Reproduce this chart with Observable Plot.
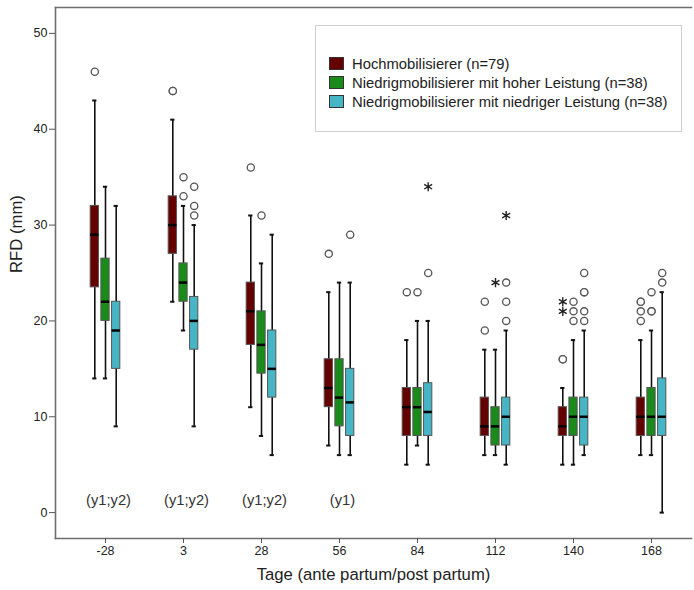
<!DOCTYPE html>
<html>
<head>
<meta charset="utf-8">
<script src="https://cdn.jsdelivr.net/npm/d3@7"></script>
<script src="https://cdn.jsdelivr.net/npm/@observablehq/plot@0.6"></script>
<style>
  html, body { margin: 0; padding: 0; background: #fff; }
  body { font-family: "Liberation Sans", Arial, sans-serif; }
  #wrap { position: relative; width: 694px; height: 590px; overflow: hidden; }
  #legend { position: absolute; left: 315px; top: 25px; width: 367px; height: 107px;
    border: 1px solid #cfcfcf; box-sizing: border-box; background: #fff;
    font-size: 14.8px; color: #222; padding: 28px 0 0 13px; }
  .row { display: flex; align-items: center; height: 19px; white-space: nowrap; }
  .sw { width: 15px; height: 13px; border: 1px solid #333; margin-right: 8px; box-sizing: border-box; flex: none; }
</style>
</head>
<body>
<div id="wrap"><div id="chart"></div><div id="legend"></div></div>
<script>
// Categories
const days = ["-28", "3", "28", "56", "84", "112", "140", "168"];
const groupNames = [
  "Hochmobilisierer (n=79)",
  "Niedrigmobilisierer mit hoher Leistung (n=38)",
  "Niedrigmobilisierer mit niedriger Leistung (n=38)"
];
const groupColors = ["#650000", "#1a8a1a", "#46b6c6"];
const annotations = ["(y1;y2)", "(y1;y2)", "(y1;y2)", "(y1)", "", "", "", ""];
const yTicks = [0, 10, 20, 30, 40, 50];

// Hochmobilisierer
const hochLow  = [14, 22, 11, 7, 5, 6, 5, 6];
const hochQ1   = [23.5, 27, 17.5, 11, 8, 8, 8, 8];
const hochMed  = [29, 30, 21, 13, 11, 9, 9, 10];
const hochQ3   = [32, 33, 24, 16, 13, 12, 11, 12];
const hochHigh = [43, 41, 31, 23, 18, 17, 13, 18];
const hochOutliers = [["-28", 46], ["3", 44], ["3", 44], ["28", 36], ["56", 27], ["84", 23],
  ["112", 22], ["112", 19], ["140", 16], ["140", 16], ["168", 22], ["168", 22], ["168", 21], ["168", 20]];
const hochExtremes = [["140", 22], ["140", 21]];

// Niedrigmobilisierer mit hoher Leistung
const hohLow  = [14, 19, 8, 6, 7, 6, 5, 6];
const hohQ1   = [20, 22, 14.5, 9, 8, 7, 8, 8];
const hohMed  = [22, 24, 17.5, 12, 11, 9, 10, 10];
const hohQ3   = [26.5, 26, 21, 16, 13, 11, 12, 13];
const hohHigh = [34, 32, 26, 24, 20, 17, 18, 19];
const hohOutliers = [["3", 35], ["3", 33], ["28", 31], ["84", 23],
  ["140", 22], ["140", 21], ["140", 20], ["168", 23], ["168", 21], ["168", 21]];
const hohExtremes = [["112", 24]];

// Niedrigmobilisierer mit niedriger Leistung
const niedLow  = [9, 9, 6, 6, 5, 5, 6, 0];
const niedQ1   = [15, 17, 12, 8, 8, 7, 7, 8];
const niedMed  = [19, 20, 15, 11.5, 10.5, 10, 10, 10];
const niedQ3   = [22, 22.5, 19, 15, 13.5, 12, 12, 14];
const niedHigh = [32, 30, 29, 24, 20, 19, 19, 23];
const niedOutliers = [["3", 34], ["3", 32], ["3", 31], ["56", 29], ["84", 25],
  ["112", 24], ["112", 22], ["112", 20], ["140", 25], ["140", 23], ["140", 23], ["140", 21], ["140", 20],
  ["168", 25], ["168", 24]];
const niedExtremes = [["84", 34], ["112", 31]];

const stats = [
  [hochLow, hochQ1, hochMed, hochQ3, hochHigh, hochOutliers, hochExtremes],
  [hohLow, hohQ1, hohMed, hohQ3, hohHigh, hohOutliers, hohExtremes],
  [niedLow, niedQ1, niedMed, niedQ3, niedHigh, niedOutliers, niedExtremes]
];

// layout constants
const W = 694, H = 590;
const mL = 55, mR = 3, insL = 10;
const STEP = (W - mL - mR - insL) / days.length;
const BOX_W = 8.5, CAP_W = 4.5, GAP = 10.7;
const boxInset = (STEP - BOX_W) / 2;
const capInset = (STEP - CAP_W) / 2;

const marks = [];
stats.forEach(([lo, q1, med, q3, hi, outl, ext], g) => {
  const rows = days.map((d, j) => ({day: d, lo: lo[j], q1: q1[j], med: med[j], q3: q3[j], hi: hi[j]}));
  const dx = (g - 1) * GAP;
  marks.push(
    Plot.ruleX(rows, {x: "day", y1: "lo", y2: "hi", dx, stroke: "#111", strokeWidth: 1.6}),
    Plot.tickY(rows, {x: "day", y: "lo", dx, insetLeft: capInset, insetRight: capInset, stroke: "#111", strokeWidth: 2}),
    Plot.tickY(rows, {x: "day", y: "hi", dx, insetLeft: capInset, insetRight: capInset, stroke: "#111", strokeWidth: 2}),
    Plot.barY(rows, {x: "day", y1: "q1", y2: "q3", dx, insetLeft: boxInset, insetRight: boxInset,
      fill: groupColors[g], stroke: "#555", strokeWidth: 1}),
    Plot.tickY(rows, {x: "day", y: "med", dx, insetLeft: boxInset, insetRight: boxInset, stroke: "#000", strokeWidth: 2.5}),
    Plot.dot(outl, {x: d => d[0], y: d => d[1], dx, r: 3.6, fill: "#fff", stroke: "#555", strokeWidth: 1.3}),
    Plot.dot(ext, {x: d => d[0], y: d => d[1], dx, r: 4.3, symbol: "asterisk", stroke: "#222", strokeWidth: 1.4})
  );
});

const chart = Plot.plot({
  width: W,
  height: H,
  marginLeft: mL,
  marginRight: mR,
  marginTop: 7,
  marginBottom: 52,
  style: {fontFamily: "'Liberation Sans', Arial, sans-serif", fontSize: "12.5px", color: "#222", background: "#fff"},
  x: {domain: days, padding: 0, insetLeft: insL},
  y: {domain: [-2.7, 52.7]},
  marks: [
    Plot.frame({anchor: "left", stroke: "#6e6e6e", strokeWidth: 1.6}),
    Plot.frame({anchor: "bottom", stroke: "#6e6e6e", strokeWidth: 1.6}),
    Plot.frame({anchor: "top", stroke: "#6e6e6e", strokeWidth: 1.6}),
    Plot.axisY({ticks: yTicks, tickSize: 6, tickPadding: 2, label: null, fontSize: 12.5, stroke: "#555"}),
    Plot.axisX({tickSize: 5, tickPadding: 3, label: null, fontSize: 12.5, stroke: "#555"}),
    Plot.text(["RFD (mm)"], {frameAnchor: "left", rotate: -90, dx: -39, fontSize: 16.7, fill: "#222"}),
    Plot.text(["Tage (ante partum/post partum)"], {frameAnchor: "bottom", dy: 41, fontSize: 16.7, fill: "#222"}),
    Plot.text(days, {x: d => d, y: 1.3, dx: 3, text: (d, i) => annotations[i], fontSize: 14.7, fill: "#333"}),
    ...marks
  ]
});
document.getElementById("chart").appendChild(chart);

const legend = document.getElementById("legend");
groupNames.forEach((name, g) => {
  const row = document.createElement("div");
  row.className = "row";
  const sw = document.createElement("span");
  sw.className = "sw";
  sw.style.background = groupColors[g];
  const t = document.createElement("span");
  t.textContent = name;
  row.appendChild(sw);
  row.appendChild(t);
  legend.appendChild(row);
});
</script>
</body>
</html>
